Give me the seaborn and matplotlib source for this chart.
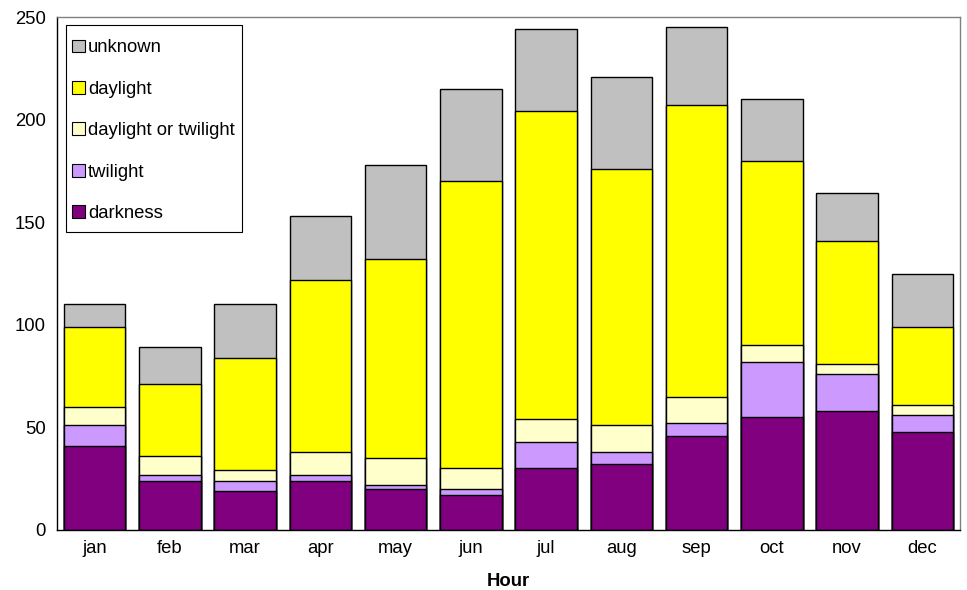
import matplotlib
matplotlib.use("Agg")
import matplotlib.pyplot as plt
import seaborn as sns
import numpy as np
import pandas as pd
from matplotlib.patches import Patch, Rectangle

months = ["jan", "feb", "mar", "apr", "may", "jun", "jul", "aug", "sep", "oct", "nov", "dec"]
darkness = [41, 24, 19, 24, 20, 17, 30, 32, 46, 55, 58, 48]
twilight = [10, 3, 5, 3, 2, 3, 13, 6, 6, 27, 18, 8]
daylight_or_twilight = [9, 9, 5, 11, 13, 10, 11, 13, 13, 8, 5, 5]
daylight = [39, 35, 55, 84, 97, 140, 150, 125, 142, 90, 60, 38]
unknown = [11, 18, 26, 31, 46, 45, 40, 45, 38, 30, 23, 26]

series_names = ["darkness", "twilight", "daylight or twilight", "daylight", "unknown"]
series_vals = [darkness, twilight, daylight_or_twilight, daylight, unknown]
colors = ["#800080", "#CC99FF", "#FFFFCC", "#FFFF00", "#C0C0C0"]

sns.set_style("white")
plt.rcParams["font.family"] = ["Liberation Sans", "DejaVu Sans"]
plt.rcParams["text.color"] = "black"
plt.rcParams["xtick.color"] = "black"
plt.rcParams["ytick.color"] = "black"
plt.rcParams["axes.labelcolor"] = "black"

FS = 13.3

fig = plt.figure(figsize=(9.67, 5.9), dpi=100)
ax = fig.add_axes([57 / 967, 60 / 590, 903 / 967, 513 / 590])

# cumulative stacks, drawn from the top layer down
cum = np.cumsum(np.array(series_vals), axis=0)
for i in range(len(series_names) - 1, -1, -1):
    df = pd.DataFrame({"month": months, "value": cum[i]})
    sns.barplot(data=df, x="month", y="value", color=colors[i], saturation=1,
                width=0.82, edgecolor="black", linewidth=1.0, ax=ax, errorbar=None)

ax.set_ylim(0, 250)
ax.set_xlim(-0.5, 11.5)
ax.set_yticks([0, 50, 100, 150, 200, 250])
ax.set_xticks(np.arange(12))
ax.set_xticklabels(months)
ax.set_xticks(np.arange(-0.5, 12, 1), minor=True)
ax.tick_params(axis="x", which="major", length=0, pad=7, labelsize=FS, labelcolor="black")
ax.tick_params(axis="x", which="minor", length=5, width=1, color="black", direction="out")
ax.tick_params(axis="y", length=5, width=1, color="black", direction="out", labelsize=FS,
               pad=3, labelcolor="black")
ax.set_xlabel("Hour", fontsize=FS, fontweight="bold", labelpad=12, color="black")
ax.set_ylabel("")

for side in ["left", "bottom"]:
    ax.spines[side].set_color("black")
    ax.spines[side].set_linewidth(1.0)
for side in ["top", "right"]:
    ax.spines[side].set_visible(True)
    ax.spines[side].set_color("#808080")
    ax.spines[side].set_linewidth(1.0)

# legend box
ax.add_patch(Rectangle((9 / 903, 298 / 513), 176 / 903, 207 / 513, transform=ax.transAxes,
                       facecolor="white", edgecolor="black", linewidth=0.8, zorder=5))

handles = [Patch(facecolor=colors[i], edgecolor="black", linewidth=0.8, label=series_names[i])
           for i in range(len(series_names) - 1, -1, -1)]
leg = ax.legend(handles=handles, loc="upper left", bbox_to_anchor=(0.01, 497 / 513),
                borderaxespad=0, fontsize=FS, frameon=False,
                labelspacing=1.32, handlelength=0.7, handleheight=0.7,
                handletextpad=0.15, borderpad=0.35)
leg.set_zorder(6)
for t in leg.get_texts():
    t.set_color("black")

fig.savefig("out.png", dpi=100)
